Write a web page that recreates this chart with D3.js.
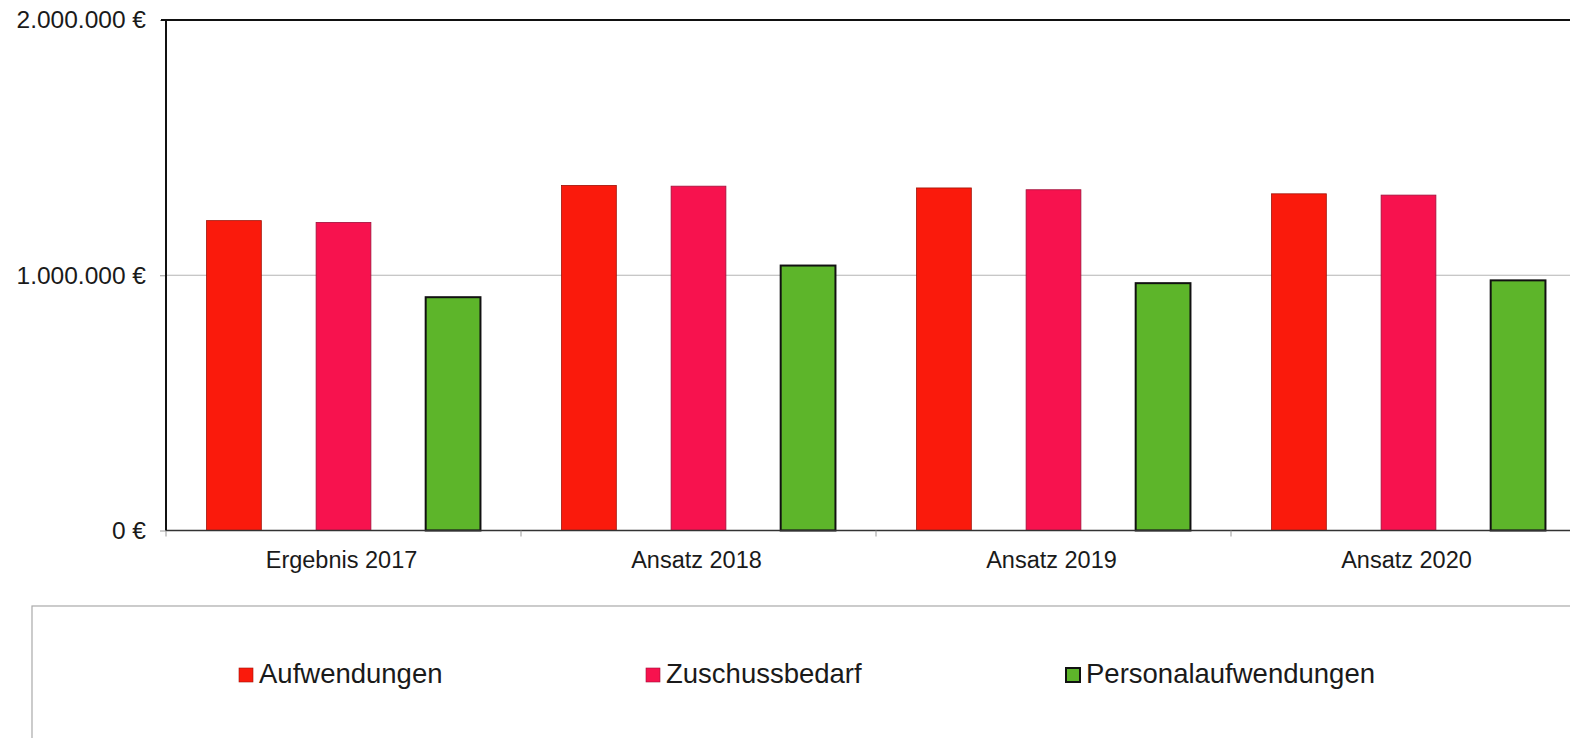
<!DOCTYPE html>
<html>
<head>
<meta charset="utf-8">
<script src="https://cdn.jsdelivr.net/npm/d3@7"></script>
<style>
  body { margin: 0; background: #fff; }
  text { font-family: "Liberation Sans", Arial, sans-serif; fill: #1a1a1a; }
</style>
</head>
<body>
<svg id="chart" width="1570" height="738"></svg>
<script>
// chart data
let categories = ["Ergebnis 2017", "Ansatz 2018", "Ansatz 2019", "Ansatz 2020"];
let seriesNames = ["Aufwendungen", "Zuschussbedarf", "Personalaufwendungen"];
let aufwendungen = [1214000, 1352000, 1342000, 1319000];
let zuschussbedarf = [1207000, 1349000, 1335000, 1314000];
let personal = [914000, 1038000, 969000, 980000];
let yTicks = [0, 1000000, 2000000];

let colors = ["#fa1a0c", "#f7124e", "#5db52a"];
let strokes = ["#a01208", "#a0103a", "#111"];

let svg = d3.select("#chart");

// plot area
let plotLeft = 166, plotTop = 20, plotBottom = 530.5;
let step = 355;

let x0 = d3.scaleBand()
    .domain(categories)
    .range([plotLeft, plotLeft + step * categories.length]);

let x1 = d3.scaleBand()
    .domain(seriesNames)
    .range([0, x0.bandwidth()])
    .paddingInner(0.5)
    .paddingOuter(0.37);

let y = d3.scaleLinear()
    .domain([0, 2000000])
    .range([plotBottom, plotTop]);

let de = d3.formatLocale({decimal: ",", thousands: ".", grouping: [3], currency: ["", " €"]});
let fmt = de.format("$,.0f");

// gridline
svg.append("g").selectAll("line").data(yTicks.filter(d => d > 0 && d < 2000000))
    .enter().append("line")
    .attr("x1", plotLeft).attr("x2", 1570)
    .attr("y1", d => y(d)).attr("y2", d => y(d))
    .attr("stroke", "#b5b5b5").attr("stroke-width", 1.2);

// bars
let data = categories.map(function(c, i) {
    return {cat: c, vals: [aufwendungen[i], zuschussbedarf[i], personal[i]]};
});

let groups = svg.append("g").selectAll("g").data(data).enter().append("g")
    .attr("transform", d => "translate(" + x0(d.cat) + ",0)");

groups.selectAll("rect").data(d => d.vals.map((v, j) => ({name: seriesNames[j], v: v, j: j})))
    .enter().append("rect")
    .attr("x", d => x1(d.name))
    .attr("width", x1.bandwidth())
    .attr("y", d => y(d.v))
    .attr("height", d => plotBottom - y(d.v))
    .attr("fill", d => colors[d.j])
    .attr("stroke", d => strokes[d.j])
    .attr("stroke-width", d => d.j == 2 ? 2 : 0.8);

// y axis
let yAxis = d3.axisLeft(y).tickValues(yTicks).tickFormat(fmt).tickSize(6).tickPadding(14);
let ya = svg.append("g").attr("transform", "translate(" + plotLeft + ",0)").call(yAxis);
ya.select(".domain").remove();
ya.selectAll(".tick line").attr("stroke", "#999");
ya.selectAll("text").style("font-size", "24.5px").attr("fill", "#1a1a1a");

// x axis
let xa = svg.append("g").attr("transform", "translate(0," + plotBottom + ")");
xa.append("line").attr("x1", plotLeft).attr("x2", 1570).attr("y1", 0).attr("y2", 0)
    .attr("stroke", "#333").attr("stroke-width", 1.5);
xa.selectAll(".tk").data(categories).enter().append("line")
    .attr("x1", d => x0(d)).attr("x2", d => x0(d))
    .attr("y1", 0).attr("y2", 6).attr("stroke", "#999");
xa.selectAll(".lbl").data(categories).enter().append("text")
    .attr("x", d => x0(d) + x0.bandwidth() / 2 - 2)
    .attr("y", 37)
    .attr("text-anchor", "middle")
    .style("font-size", "23.5px")
    .text(d => d);

// plot frame: left and top
svg.append("line").attr("x1", plotLeft).attr("x2", plotLeft).attr("y1", plotTop).attr("y2", plotBottom)
    .attr("stroke", "#111").attr("stroke-width", 2);
svg.append("line").attr("x1", plotLeft - 5).attr("x2", 1570).attr("y1", plotTop).attr("y2", plotTop)
    .attr("stroke", "#111").attr("stroke-width", 2);

// legend
svg.append("rect").attr("x", 32).attr("y", 606).attr("width", 1600).attr("height", 200)
    .attr("fill", "none").attr("stroke", "#aaa").attr("stroke-width", 1.2);

let legendX = [239, 646, 1066];
let lg = svg.append("g").selectAll("g").data(seriesNames).enter().append("g")
    .attr("transform", (d, i) => "translate(" + legendX[i] + ",668)");
lg.append("rect").attr("width", 14).attr("height", 14)
    .attr("fill", (d, i) => colors[i])
    .attr("stroke", (d, i) => strokes[i])
    .attr("stroke-width", (d, i) => i == 2 ? 2 : 0.6);
lg.append("text").attr("x", 20).attr("y", 15)
    .style("font-size", "27.5px")
    .text(d => d);
</script>
</body>
</html>
